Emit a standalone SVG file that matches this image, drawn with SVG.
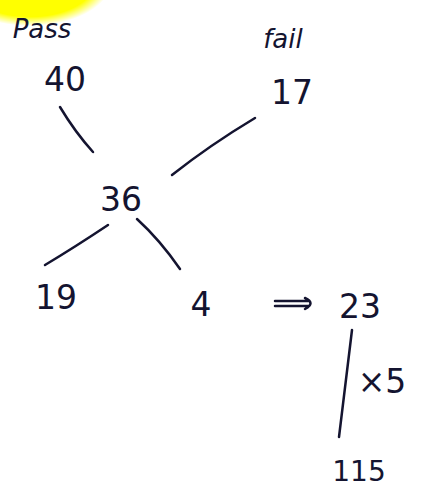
<svg xmlns="http://www.w3.org/2000/svg" width="421" height="495" viewBox="0 0 421 495">
<defs>
<radialGradient id="glow" cx="0.5" cy="0.5" r="0.5">
<stop offset="0" stop-color="#ffff00"/>
<stop offset="0.8" stop-color="#ffff00"/>
<stop offset="1" stop-color="#ffff00" stop-opacity="0"/>
</radialGradient>
<style>
.t{font-family:"DejaVu Sans","Liberation Sans",sans-serif;fill:#141430;text-anchor:middle}
.n{font-size:33px}
.w{font-size:26px;font-style:italic}
.c{stroke:#141430;stroke-width:2.5;fill:none;stroke-linecap:round}
</style>
</defs>
<rect width="421" height="495" fill="#ffffff"/>
<ellipse cx="30" cy="-20" rx="82" ry="46" fill="url(#glow)"/>
<g id="label-pass"><text class="t w" x="42" y="38">Pass</text></g>
<g id="label-fail"><text class="t w" x="283" y="48">fail</text></g>
<g id="node-40"><text class="t n" x="65" y="91">40</text></g>
<g id="node-17"><text class="t n" x="292" y="104">17</text></g>
<g id="node-36"><text class="t n" x="121" y="211">36</text></g>
<g id="node-19"><text class="t n" x="56" y="309">19</text></g>
<g id="node-4"><text class="t n" x="201" y="316">4</text></g>
<g id="node-23"><text class="t n" x="360" y="318">23</text></g>
<g id="label-x5"><text class="t n" x="382" y="393">×5</text></g>
<g id="node-115"><text class="t" style="font-size:28px" x="359" y="481">115</text></g>
<g id="connectors">
<path class="c" d="M60 107 Q75 132 93 152"/>
<path class="c" d="M255 118 Q210 145 172 175"/>
<path class="c" d="M108 225 Q75 247 45 265"/>
<path class="c" d="M137 219 Q160 240 180 269"/>
<path class="c" d="M275 301 H309 M275 306 H309 M305 298 Q316 303 305 309"/>
<path class="c" d="M352 330 L339 437"/>
</g>
</svg>
